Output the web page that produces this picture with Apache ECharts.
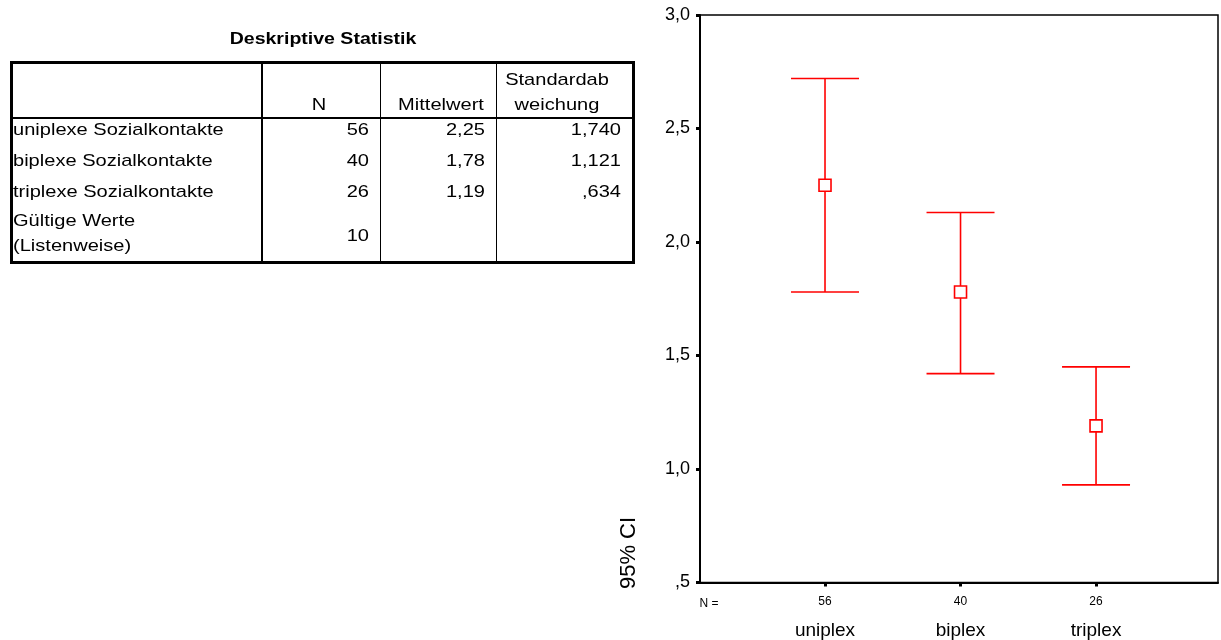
<!DOCTYPE html>
<html>
<head>
<meta charset="utf-8">
<script src="https://cdn.jsdelivr.net/npm/echarts@6/dist/echarts.min.js"></script>
<style>
  html, body { margin: 0; padding: 0; background: #fff; width: 1221px; height: 640px; overflow: hidden;
    font-family: "Liberation Sans", Arial, sans-serif; }
  #chart { position: absolute; left: 0; top: 0; width: 1221px; height: 640px; }
  #table { position: absolute; left: 0; top: 0; width: 650px; height: 280px; }
  .t { position: absolute; white-space: nowrap; font-size: 17px; line-height: 17px; color: #000; }
  .b { font-weight: bold; font-size: 16px; line-height: 16px; }
  .ln { position: absolute; background: #000; }
</style>
</head>
<body>
<div id="chart"></div>
<div id="table"></div>
<script>
// Descriptive statistics of social contacts by multiplexity
const categories = ['uniplex', 'biplex', 'triplex'];
const rowLabels = ['uniplexe Sozialkontakte', 'biplexe Sozialkontakte', 'triplexe Sozialkontakte'];
const nValues = [56, 40, 26];
const means = [2.25, 1.78, 1.19];
const stdDevs = [1.740, 1.121, 0.634];
// 95% confidence interval of the mean
const ciLower = [1.78, 1.42, 0.93];
const ciUpper = [2.72, 2.13, 1.45];
const validN = 10;
const headers = ['N', 'Mittelwert', 'Standardab\nweichung'];

// German number format, no leading zero (",634")
function fmt(v, d) {
  return v.toFixed(d).replace('.', ',').replace(/^0,/, ',');
}

// ---------- statistics table ----------
const tbl = document.getElementById('table');
function txt(s, x, y, align, cls, sx) {
  const d = document.createElement('div');
  d.className = 't' + (cls ? ' ' + cls : '');
  d.textContent = s;
  d.style.left = x + 'px';
  d.style.top = y + 'px';
  const tx = align === 'left' ? '0' : (align === 'right' ? '-100%' : '-50%');
  d.style.transformOrigin = align + ' center';
  d.style.transform = 'translate(' + tx + ',-50%) scaleX(' + (sx || 1.18) + ')';
  tbl.appendChild(d);
}
function line(x, y, w, h) {
  const d = document.createElement('div');
  d.className = 'ln';
  d.style.left = x + 'px'; d.style.top = y + 'px';
  d.style.width = w + 'px'; d.style.height = h + 'px';
  tbl.appendChild(d);
}
txt('Deskriptive Statistik', 323, 39, 'center', 'b', 1.22);
// frame and rules
line(10, 61, 625, 2.5);
line(10, 261, 625, 2.5);
line(10, 61, 2.5, 202);
line(632, 61, 2.5, 202);
line(10, 117, 625, 2);
line(261, 61, 2, 202);
line(380, 61, 1, 202);
line(496, 61, 1, 202);
// header
txt(headers[0], 319, 104, 'center');
txt(headers[1], 441, 104, 'center');
const sdHead = headers[2].split('\n');
txt(sdHead[0], 557, 79, 'center');
txt(sdHead[1], 557, 104, 'center');
// body rows
const rowY = [129, 160, 191];
rowLabels.forEach((lab, i) => {
  txt(lab, 13, rowY[i], 'left');
  txt(String(nValues[i]), 369, rowY[i], 'right');
  txt(fmt(means[i], 2), 485, rowY[i], 'right');
  txt(fmt(stdDevs[i], 3), 621, rowY[i], 'right');
});
txt('Gültige Werte', 13, 220, 'left');
txt('(Listenweise)', 13, 245, 'left');
txt(String(validN), 369, 235, 'right');

// ---------- error bar chart ----------
const chart = echarts.init(document.getElementById('chart'), null, { renderer: 'canvas' });
const FONT = '"Liberation Sans", Arial, sans-serif';
const xPos = categories.map((c, i) => i + 1);

const option = {
  animation: false,
  textStyle: { fontFamily: FONT, color: '#000' },
  grid: {
    left: 700, right: 3, top: 15, bottom: 55,
    show: true, borderColor: '#000', borderWidth: 1.5, backgroundColor: 'transparent'
  },
  xAxis: {
    type: 'value',
    min: 0.0775,
    max: 3.9,
    axisLine: { show: true, onZero: false, lineStyle: { color: '#000', width: 2 } },
    splitLine: { show: false },
    axisTick: { show: true, customValues: xPos, length: 4, lineStyle: { color: '#000', width: 3 } },
    axisLabel: {
      customValues: xPos,
      margin: 10,
      color: '#000',
      fontFamily: FONT,
      formatter: v => '{n|' + nValues[v - 1] + '}\n{c|' + categories[v - 1] + '}',
      rich: {
        n: { fontSize: 12, lineHeight: 18, fontFamily: FONT, color: '#000' },
        c: { fontSize: 19, lineHeight: 40, fontFamily: FONT, color: '#000' }
      }
    }
  },
  yAxis: {
    type: 'value',
    min: 0.5,
    max: 3,
    interval: 0.5,
    axisLine: { show: true, lineStyle: { color: '#000', width: 2 } },
    axisTick: { show: true, length: 4, lineStyle: { color: '#000', width: 3 } },
    splitLine: { show: false },
    axisLabel: {
      fontSize: 18, color: '#000', margin: 10, fontFamily: FONT,
      formatter: v => fmt(v, 1)
    }
  },
  graphic: [
    { type: 'text', x: 709, y: 604,
      style: { text: 'N =', fontSize: 12, fontFamily: FONT, fill: '#000', align: 'center', verticalAlign: 'middle' } },
    { type: 'text', x: 629, y: 553, rotation: Math.PI / 2,
      style: { text: '95% CI', fontSize: 22, fontFamily: FONT, fill: '#000', align: 'center', verticalAlign: 'middle' } }
  ],
  series: [{
    type: 'custom',
    data: xPos.map((x, i) => [x, ciLower[i], ciUpper[i], means[i]]),
    encode: { x: 0, y: [1, 2, 3] },
    renderItem: function (params, api) {
      const x = api.value(0);
      const lo = api.coord([x, api.value(1)]);
      const hi = api.coord([x, api.value(2)]);
      const mid = api.coord([x, api.value(3)]);
      const hw = 34, s = 6;
      const st = { stroke: '#ff0000', lineWidth: 1.6, fill: null };
      return {
        type: 'group',
        children: [
          { type: 'line', shape: { x1: hi[0], y1: hi[1], x2: lo[0], y2: lo[1] }, style: st },
          { type: 'line', shape: { x1: hi[0] - hw, y1: hi[1], x2: hi[0] + hw, y2: hi[1] }, style: st },
          { type: 'line', shape: { x1: lo[0] - hw, y1: lo[1], x2: lo[0] + hw, y2: lo[1] }, style: st },
          { type: 'rect', shape: { x: mid[0] - s, y: mid[1] - s, width: 2 * s, height: 2 * s },
            style: { stroke: '#ff0000', lineWidth: 1.6, fill: '#fff' } }
        ]
      };
    }
  }]
};
chart.setOption(option);
</script>
</body>
</html>
